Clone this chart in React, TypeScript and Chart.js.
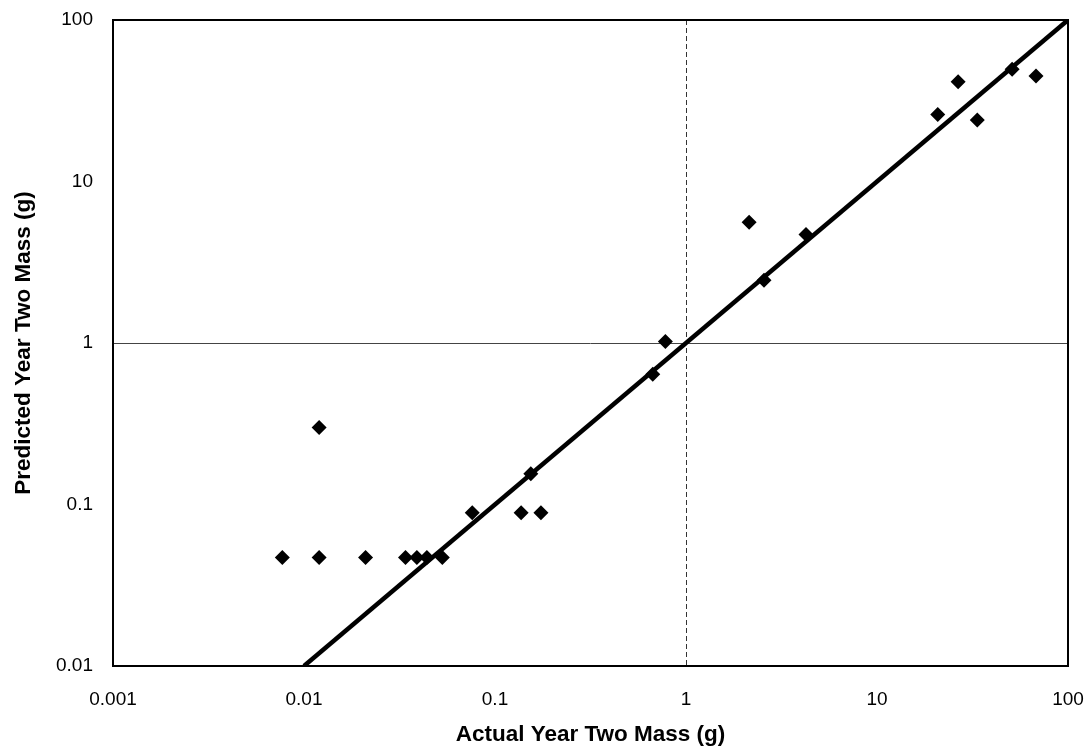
import React, { useEffect, useRef } from "react";
import { Chart, registerables } from "chart.js";

Chart.register(...registerables);

const actualMass = [0.0077, 0.012, 0.012, 0.021, 0.034, 0.039, 0.044, 0.053, 0.076, 0.137, 0.154, 0.174, 0.67, 0.78, 2.14, 2.56, 4.25, 20.8, 26.6, 33.5, 51, 68];
const predictedMass = [0.047, 0.047, 0.3, 0.047, 0.047, 0.047, 0.047, 0.047, 0.089, 0.089, 0.155, 0.089, 0.64, 1.02, 5.6, 2.45, 4.7, 26, 41.5, 24, 49.5, 45];
const lineX = [0.01, 100];
const lineY = [0.01, 100];
const xTickValues = [0.001, 0.01, 0.1, 1, 10, 100];
const yTickValues = [0.01, 0.1, 1, 10, 100];
const xTitle = "Actual Year Two Mass (g)";
const yTitle = "Predicted Year Two Mass (g)";

const FONT = "'Liberation Sans', Arial, sans-serif";

const frame = {
  id: "frame",
  afterDraw(chart: any) {
    const { ctx, chartArea } = chart;
    ctx.save();
    ctx.strokeStyle = "#000";
    ctx.lineWidth = 2;
    ctx.strokeRect(chartArea.left, chartArea.top, chartArea.right - chartArea.left, chartArea.bottom - chartArea.top);
    ctx.restore();
  },
};

export default function App() {
  const ref = useRef<HTMLCanvasElement | null>(null);
  useEffect(() => {
    if (!ref.current) return;
    const chart = new Chart(ref.current, {
      type: "scatter",
      data: {
        datasets: [
          {
            type: "line",
            data: lineX.map((x, i) => ({ x, y: lineY[i] })),
            borderColor: "#000",
            borderWidth: 4.5,
            pointRadius: 0,
            fill: false,
          } as any,
          {
            data: actualMass.map((x, i) => ({ x, y: predictedMass[i] })),
            pointStyle: "rectRot",
            pointRadius: 7.5,
            pointBackgroundColor: "#000",
            pointBorderColor: "#000",
            pointBorderWidth: 0,
          },
        ],
      },
      options: {
        responsive: false,
        animation: false,
        devicePixelRatio: 1,
        layout: { padding: { left: 0, right: 18, top: 20, bottom: 0 } },
        plugins: { legend: { display: false }, tooltip: { enabled: false } },
        scales: {
          x: {
            type: "logarithmic",
            min: 0.001,
            max: 100,
            afterBuildTicks: (s: any) => {
              s.ticks = xTickValues.map((v) => ({ value: v }));
            },
            afterFit: (s: any) => {
              s.height = 89;
              s.paddingLeft = 0;
              s.paddingRight = 0;
            },
            ticks: {
              color: "#000",
              font: { family: FONT, size: 19 },
              padding: 22,
              maxRotation: 0,
              autoSkip: false,
              callback: (v: any) => String(v),
            },
            grid: {
              drawTicks: false,
              lineWidth: 1,
              color: (c: any) => (c.tick && c.tick.value === 1 ? "#333" : "rgba(0,0,0,0)"),
            },
            border: { display: false, dash: [5, 3] },
            title: {
              display: true,
              text: xTitle,
              color: "#000",
              font: { family: FONT, size: 22.5, weight: "bold" },
              padding: { top: 0, bottom: 7 },
            },
          },
          y: {
            type: "logarithmic",
            min: 0.01,
            max: 100,
            afterBuildTicks: (s: any) => {
              s.ticks = yTickValues.map((v) => ({ value: v }));
            },
            afterFit: (s: any) => {
              s.width = 113;
              s.paddingTop = 0;
              s.paddingBottom = 0;
            },
            ticks: {
              color: "#000",
              font: { family: FONT, size: 19 },
              padding: 20,
              autoSkip: false,
              callback: (v: any) => String(v),
            },
            grid: {
              drawTicks: false,
              lineWidth: 1,
              color: (c: any) => (c.tick && c.tick.value === 1 ? "#444" : "rgba(0,0,0,0)"),
            },
            border: { display: false },
            title: {
              display: true,
              text: yTitle,
              color: "#000",
              font: { family: FONT, size: 22.5, weight: "bold" },
              padding: { top: 10, bottom: 0 },
            },
          },
        },
      },
      plugins: [frame],
    });
    return () => chart.destroy();
  }, []);
  return (
    <div style={{ position: "fixed", left: 0, top: 0, width: 1086, height: 755, background: "#fff" }}>
      <canvas ref={ref} width={1086} height={755} style={{ display: "block" }} />
    </div>
  );
}
